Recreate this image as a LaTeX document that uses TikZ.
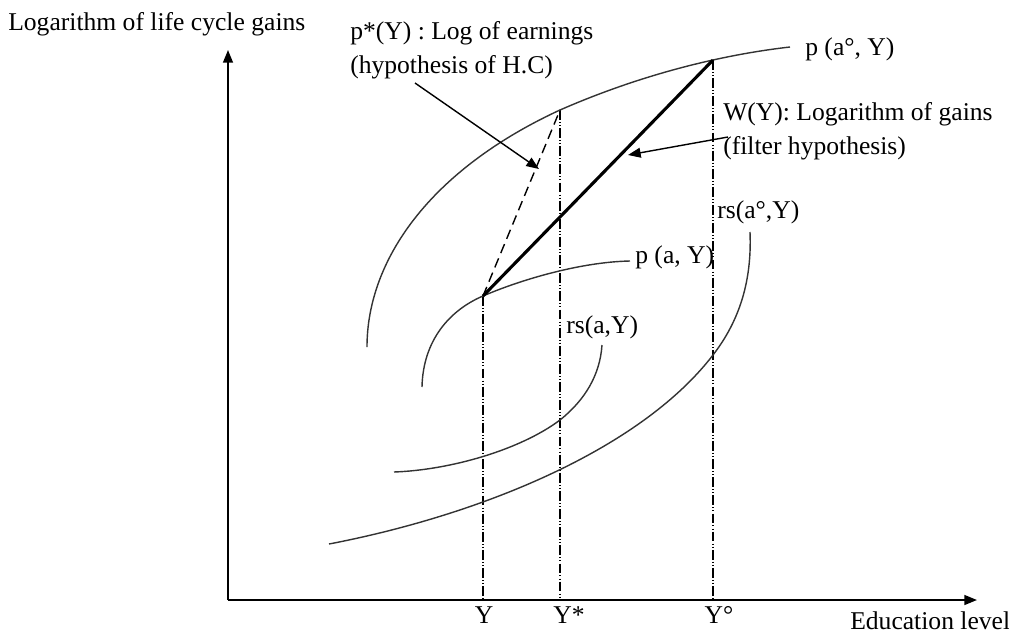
\documentclass[tikz,border=0pt]{standalone}
\usepackage{fontspec}
\setmainfont{Liberation Serif}
\usepackage{tikz}
\usetikzlibrary{arrows.meta, calc}

\begin{document}
\begin{tikzpicture}[
  x=0.025cm, y=-0.025cm,
  >={Triangle[length=9pt,width=7pt]},
  every node/.style={font=\fontsize{18.2}{23}\selectfont, inner sep=0pt},
  lab/.style={anchor=west, align=left},
  axis/.style={->, line width=1.3pt},
  curve/.style={line width=1pt, black!80},
  guide/.style={line width=0.9pt, dash pattern=on 7pt off 1.5pt on 0.7pt off 1.5pt on 0.7pt off 1.5pt},
  wline/.style={line width=2.2pt},
  hcline/.style={line width=1pt, dash pattern=on 7pt off 4pt},
  pointer/.style={->, line width=1pt}
]
\useasboundingbox (0,0) rectangle (1009,634);
% axes
\coordinate (origin) at (228,600);
\coordinate (ytip)   at (228,50);
\coordinate (xtip)   at (977,600);
\draw[axis] (origin) -- (ytip);
\draw[axis] (origin) -- (xtip);
\node[lab] (ylab) at (8,24) {Logarithm of life cycle gains};
\node[lab] (xlab) at (850,621) {Education level};
% key points
\coordinate (kY)  at (483,296);
\coordinate (kYs) at (560,110);
\coordinate (kYo) at (713,60);
% guides down to the axis
\draw[guide] (kY)  -- (kY |- origin);
\draw[guide] (kYs) -- (kYs |- origin);
\draw[guide] (kYo) -- (kYo |- origin);
\node (tY)  at (484,615) {Y};
\node (tYs) at (569,615) {Y*};
\node (tYo) at (719,615) {Y°};
% curves
\draw[curve] (367,347) .. controls (367,260) and (430,170) .. (kYs)
             .. controls (640,75) and (720,55) .. (790,47);
\draw[curve] (422,387) .. controls (423,340) and (450,310) .. (kY)
             .. controls (520,280) and (580,262) .. (630,261);
\draw[curve] (394,472) .. controls (450,470) and (520,450) .. (560,420)
             .. controls (585,400) and (600,375) .. (602,345);
\draw[curve] (329,544) .. controls (480,515) and (640,450) .. (713,355)
             .. controls (740,320) and (752,280) .. (750,232);
\node[lab] (paoY)  at (805,49)  {p (a°, Y)};
\node[lab] (paY)   at (635,257) {p (a, Y)};
\node[lab] (rsaY)  at (566,327) {rs(a,Y)};
\node[lab] (rsaoY) at (717,212) {rs(a°,Y)};
% earnings lines
\draw[hcline] (kY) -- (kYs);
\draw[wline] (kY) -- (kYo);
% annotations
\node[lab] (pstar) at (350,50) {p*(Y) : Log of earnings\\[1pt](hypothesis of H.C)};
\node[lab] (wlab)  at (723,131) {W(Y): Logarithm of gains\\[1pt](filter hypothesis)};
\coordinate (pstarfoot) at (415,83);
\coordinate (pstartip)  at (539,169);
\coordinate (wfoot) at (728,137);
\coordinate (wtip)  at (628,155);
\draw[pointer] (pstarfoot) -- (pstartip);
\draw[pointer] (wfoot) -- (wtip);
\end{tikzpicture}
\end{document}
